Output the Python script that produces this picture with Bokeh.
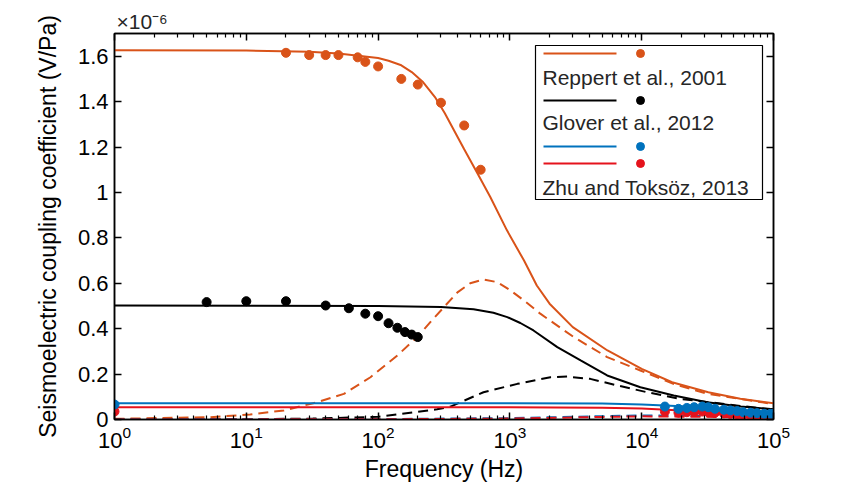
from bokeh.plotting import figure
from bokeh.models import (LogAxis, LinearAxis, FixedTicker, BoxAnnotation,
                          PolyAnnotation, Label, LogTickFormatter,
                          CustomJSTickFormatter)
from bokeh.embed import file_html
from bokeh.resources import INLINE

# ---------------- data (values in units of 1e-6 V/Pa) ----------------
# Reppert et al., 2001 - model (solid and dashed components)
rep_f = [1, 10, 30, 50, 100, 120, 150, 180, 220, 270, 320, 450, 560, 710,
         950, 1280, 1600, 2000, 3000, 5500, 10000, 17000, 32000, 56000, 100000]
rep_solid = [1.626, 1.625, 1.62, 1.612, 1.592, 1.58, 1.56, 1.53, 1.485, 1.42,
             1.35, 1.19, 1.09, 0.98, 0.833, 0.70, 0.59, 0.51, 0.407, 0.304,
             0.223, 0.164, 0.12, 0.091, 0.072]
rep_fd = [1, 5.3, 10.7, 19.3, 34.5, 55, 87.5, 140, 198, 250, 316, 400, 500,
          630, 800, 1000, 1280, 1700, 3050, 5470, 9770, 17400, 31600, 100000]
rep_dash = [0.003, 0.01, 0.022, 0.04, 0.076, 0.113, 0.186, 0.282, 0.363,
            0.43, 0.495, 0.56, 0.60, 0.617, 0.605, 0.57, 0.524, 0.466, 0.363,
            0.275, 0.216, 0.157, 0.113, 0.068]
# Reppert et al., 2001 - measurements
rep_pf = [20, 30, 40, 50, 70, 80, 100, 150, 200, 300, 450, 600]
rep_pv = [1.615, 1.605, 1.605, 1.605, 1.595, 1.575, 1.555, 1.50, 1.475, 1.395,
          1.295, 1.10]

# Glover et al., 2012 - model
glo_f = [1, 100, 300, 530, 750, 955, 1200, 1510, 2290, 3440, 5470, 9770,
         17500, 31400, 56200, 100000]
glo_solid = [0.502, 0.500, 0.495, 0.486, 0.47, 0.451, 0.425, 0.392, 0.319,
             0.26, 0.194, 0.142, 0.106, 0.076, 0.057, 0.045]
glo_fd = [1, 10, 32, 100, 150, 280, 355, 630, 1140, 2030, 2720, 4070, 6520,
          11000, 19500, 100000]
glo_dash = [0.0, 0.0015, 0.004, 0.012, 0.025, 0.045, 0.057, 0.12, 0.157,
            0.186, 0.189, 0.179, 0.15, 0.12, 0.091, 0.043]
# Glover et al., 2012 - measurements
glo_pf = [5, 10, 20, 40, 60, 80, 100, 120, 140, 160, 180, 200]
glo_pv = [0.517, 0.521, 0.521, 0.502, 0.490, 0.466, 0.455, 0.424, 0.404,
          0.385, 0.374, 0.363]

# Zhu and Toksoz, 2013 - models (blue, red)
zhu_f = [1, 1000, 5000, 10000, 20000, 40000, 100000]
zb_solid = [0.072, 0.072, 0.070, 0.066, 0.058, 0.045, 0.030]
zr_solid = [0.054, 0.054, 0.052, 0.048, 0.040, 0.032, 0.022]
zhu_fd = [1, 100, 1000, 3000, 10000, 30000, 100000]
zb_dash = [0.0, 0.002, 0.006, 0.012, 0.018, 0.015, 0.010]
zr_dash = [0.0, 0.001, 0.004, 0.009, 0.014, 0.012, 0.008]
# Zhu and Toksoz, 2013 - measurements
zhu_pf = [1, 15000, 19000, 22000, 25000, 28800, 32000, 36000, 42000, 47000,
          53000, 59000, 67000, 75000, 85000, 95000, 100000]
zb_pv = [0.066, 0.057, 0.047, 0.051, 0.054, 0.057, 0.054, 0.047, 0.043, 0.040,
         0.037, 0.032, 0.030, 0.028, 0.025, 0.025, 0.025]
zr_pv = [0.035, 0.035, 0.030, 0.032, 0.033, 0.035, 0.032, 0.030, 0.027, 0.025,
         0.022, 0.020, 0.018, 0.017, 0.016, 0.015, 0.015]

x_ticks = [1, 10, 100, 1000, 10000, 100000]
y_ticks = [0, 0.2, 0.4, 0.6, 0.8, 1.0, 1.2, 1.4, 1.6]
legend_labels = ["Reppert et al., 2001", "Glover et al., 2012",
                 "Zhu and Toksöz, 2013"]
scale_text = "×10⁻⁶"

# ---------------- style ----------------
ORANGE = "#D95319"
BLACK = "#000000"
BLUE = "#0072BD"
RED = "#E5131C"
FONT = "Liberation Sans"
DASH = "10 6"
LW = 2

p = figure(width=836, height=486, x_axis_type="log", x_range=(1, 1e5),
           y_range=(0, 1.7), output_backend="svg", toolbar_location=None,
           min_border_left=114, min_border_right=63, min_border_top=33,
           min_border_bottom=67, title=scale_text)
p.title.text_font = FONT
p.title.text_font_size = "21px"
p.title.text_font_style = "normal"
p.title.text_color = "#262626"
p.title.align = "left"
p.title.offset = 2
p.title.standoff = 1
p.xgrid.visible = False
p.ygrid.visible = False
p.outline_line_color = "black"
p.outline_line_width = 1.5
p.background_fill_color = "white"
p.border_fill_color = "white"

minor = [m * 10 ** d for d in range(5) for m in range(2, 10)]
xticker = FixedTicker(ticks=x_ticks, minor_ticks=minor)
yticker = FixedTicker(ticks=y_ticks)
blank = CustomJSTickFormatter(code="return ''")


def style_axis(ax):
    ax.axis_line_color = "black"
    ax.axis_line_width = 1.5
    ax.major_tick_in = 7
    ax.major_tick_out = 0
    ax.minor_tick_in = 4
    ax.minor_tick_out = 0
    ax.major_tick_line_color = "black"
    ax.major_tick_line_width = 1.5
    ax.minor_tick_line_color = "black"
    ax.minor_tick_line_width = 1.2
    ax.major_label_text_font = FONT
    ax.major_label_text_font_size = "22px"
    ax.major_label_text_color = "black"
    ax.axis_label_text_font = FONT
    ax.axis_label_text_font_size = "23px"
    ax.axis_label_text_font_style = "normal"
    ax.axis_label_text_color = "black"


xa = p.xaxis[0]
xa.ticker = xticker
xa.formatter = LogTickFormatter()
xa.axis_label = "Frequency (Hz)"
style_axis(xa)
xa.major_label_standoff = 6
xa.axis_label_standoff = 5

ya = p.yaxis[0]
ya.ticker = yticker
ya.major_label_overrides = {0: "0", 1: "1"}
ya.axis_label = "Seismoelectric coupling coefficient (V/Pa)"
style_axis(ya)
ya.minor_tick_line_color = None
ya.major_label_standoff = 6
ya.axis_label_standoff = 14

top = LogAxis(ticker=xticker, formatter=blank)
style_axis(top)
top.major_label_standoff = 0
p.add_layout(top, "above")
right = LinearAxis(ticker=yticker, formatter=blank)
style_axis(right)
right.minor_tick_line_color = None
right.major_label_standoff = 0
p.add_layout(right, "right")

# ---------------- data glyphs ----------------
p.line(rep_fd, rep_dash, line_color=ORANGE, line_width=LW, line_dash=DASH)
p.line(glo_fd, glo_dash, line_color=BLACK, line_width=LW, line_dash=DASH)
p.line(zhu_fd, zb_dash, line_color=BLUE, line_width=LW, line_dash=DASH)
p.line(zhu_fd, zr_dash, line_color=RED, line_width=LW, line_dash=DASH)

p.line(rep_f, rep_solid, line_color=ORANGE, line_width=LW)
p.line(glo_f, glo_solid, line_color=BLACK, line_width=LW)
p.line(zhu_f, zb_solid, line_color=BLUE, line_width=LW)
p.line(zhu_f, zr_solid, line_color=RED, line_width=LW)

p.scatter(rep_pf, rep_pv, size=9, color=ORANGE)
p.scatter(glo_pf, glo_pv, size=9, color=BLACK)
p.scatter(zhu_pf, zr_pv, size=9, color=RED)
p.scatter(zhu_pf, zb_pv, size=9, color=BLUE)

# ---------------- legend (frame screen units) ----------------
p.add_layout(BoxAnnotation(left=421, right=648, bottom=220, top=374,
                           left_units="screen", right_units="screen",
                           bottom_units="screen", top_units="screen",
                           fill_color="white", fill_alpha=1,
                           line_color="black", line_alpha=1, line_width=1.2))
entries = [(ORANGE, 366), (BLACK, 319), (BLUE, 273), (RED, 256)]
for col, yy in entries:
    p.add_layout(PolyAnnotation(xs=[429, 502, 502, 429], ys=[yy, yy, yy, yy],
                                xs_units="screen", ys_units="screen",
                                fill_alpha=0, line_color=col, line_alpha=1,
                                line_width=2))
    p.add_layout(BoxAnnotation(left=522, right=530, bottom=yy - 4, top=yy + 4,
                               left_units="screen", right_units="screen",
                               bottom_units="screen", top_units="screen",
                               fill_color=col, fill_alpha=1, line_color=col,
                               line_alpha=1, border_radius=4))
for txt, yy in zip(legend_labels, [342, 297, 232]):
    p.add_layout(Label(x=428, y=yy, x_units="screen", y_units="screen",
                       text=txt, text_font=FONT, text_font_size="21px",
                       text_color="#262626", text_baseline="middle"))

open("out.html", "w").write(file_html(p, INLINE))
